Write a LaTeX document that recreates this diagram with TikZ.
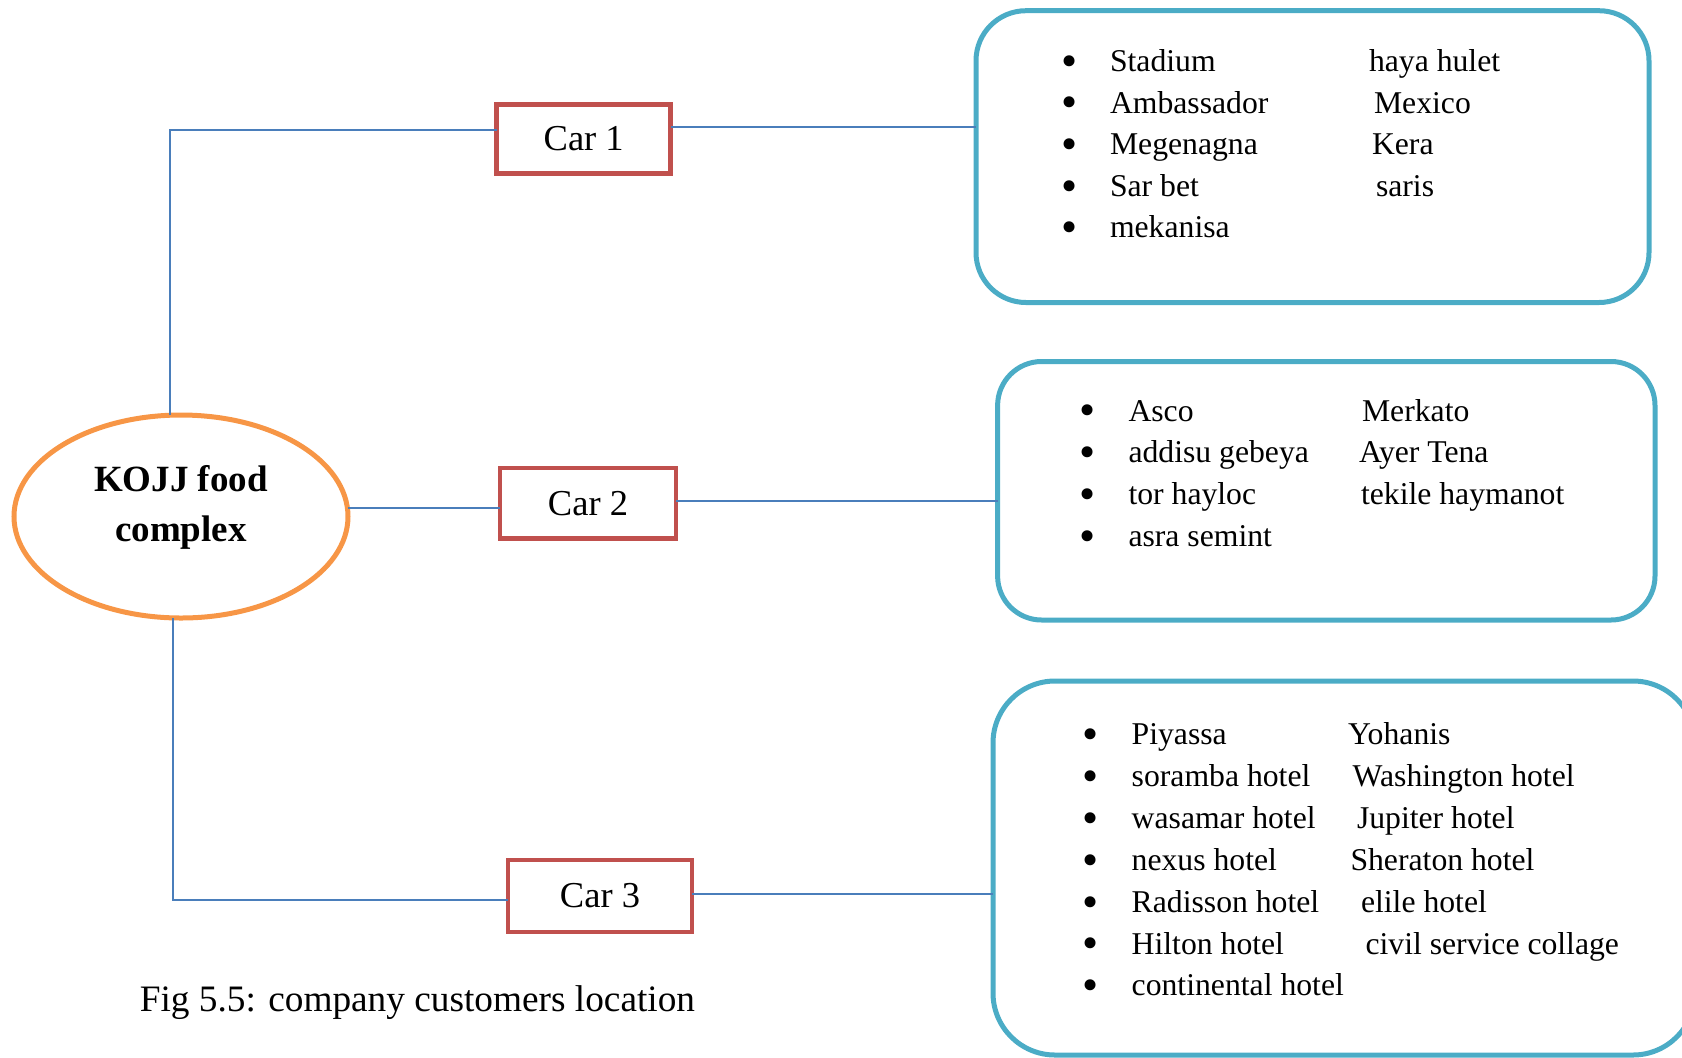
\documentclass[tikz,border=0pt]{standalone}
\usepackage{fontspec}
\setmainfont{Liberation Serif}
\usetikzlibrary{shapes.geometric}
\definecolor{conn}{HTML}{4A7EBB}
\definecolor{carred}{HTML}{C0504D}
\definecolor{hub}{HTML}{F79646}
\definecolor{listbox}{HTML}{4BACC6}
\begin{document}
\begin{tikzpicture}[x=0.5pt,y=-0.5pt,
  conline/.style={draw=conn,line width=1pt},
  carbox/.style={draw=carred,line width=2.4pt,rectangle,inner sep=0pt,outer sep=0pt,font=\fontsize{18.25pt}{22pt}\selectfont},
  hubell/.style={draw=hub,line width=2.5pt,ellipse,inner sep=0pt,outer sep=0pt,minimum width=167pt,minimum height=101.5pt},
  listframe/.style={draw=listbox,line width=2.5pt,rectangle,inner sep=0pt,outer sep=0pt},
  item/.style={anchor=base west,inner sep=0pt,outer sep=0pt,font=\fontsize{15.85pt}{19pt}\selectfont},
  dot/.style={anchor=center,inner sep=0pt,outer sep=0pt,font=\fontsize{23pt}{23pt}\selectfont},
]
\useasboundingbox (0,0) rectangle (1682,1057);
\clip (0,0) rectangle (1682,1057);

% hub
\node[hubell] (kojj) at (181,516.5) {};
\node[anchor=base,align=center,inner sep=0pt,font=\bfseries\fontsize{18.5pt}{24.6pt}\selectfont] (kojjtext) at (181,541) {KOJJ food\\complex};

% cars
\node[carbox,minimum width=87pt,minimum height=34.5pt] (car1) at (583.7,138.7) {Car 1};
\node[carbox,minimum width=88pt,minimum height=35.25pt] (car2) at (588,503.3) {Car 2};
\node[carbox,minimum width=92pt,minimum height=36pt] (car3) at (600,896) {Car 3};

% list frames
\node[listframe,rounded corners=25pt,minimum width=336.5pt,minimum height=145.9pt] (box1) at (1312.5,156.6) {};
\node[listframe,rounded corners=22pt,minimum width=328.7pt,minimum height=129.25pt] (box2) at (1326.3,490.75) {};
\node[listframe,rounded corners=31pt,minimum width=351pt,minimum height=187pt] (box3) at (1344,868) {};

% connectors
\coordinate (jtop) at (170,130);
\coordinate (jbot) at (172.5,900);
\draw[conline] (kojj.north -| jtop) -- (jtop) -- (jtop -| car1.west);
\draw[conline] (kojj.south -| jbot) -- (jbot) -- (jbot -| car3.west);
\draw[conline] ([yshift=4.5pt]kojj.east) -- ([yshift=4.5pt]kojj.east -| car2.west);
\draw[conline] ([yshift=6pt]car1.east) -- ([yshift=6pt]car1.east -| box1.west);
\draw[conline] ([yshift=1.15pt]car2.east) -- ([yshift=1.15pt]car2.east -| box2.west);
\draw[conline] ([yshift=1.2pt]car3.east) -- ([yshift=1.2pt]car3.east -| box3.west);

% list 1
\foreach \yb/\ta/\tb/\xb [count=\i] in {71.3/Stadium/haya hulet/1369, 113.0/Ambassador/Mexico/1374, 154.6/Megenagna/Kera/1372, 196.3/Sar bet/saris/1376}
{
  \node[dot] (bA\i) at (1069.5,\yb-5.5) {•};
  \node[item] (tA\i) at (1110,\yb) {\ta};
  \node[item] (uA\i) at (\xb,\yb) {\tb};
}
\node[dot] (bA5) at (1069.5,237.9-5.5) {•};
\node[item] (tA5) at (1110,237.9) {mekanisa};

% list 2
\foreach \yb/\ta/\tb/\xb [count=\i] in {421.0/Asco/Merkato/1362, 462.8/addisu gebeya/Ayer Tena/1359, 504.6/tor hayloc/tekile haymanot/1361}
{
  \node[dot] (bB\i) at (1087.7,\yb-5.5) {•};
  \node[item] (tB\i) at (1128.5,\yb) {\ta};
  \node[item] (uB\i) at (\xb,\yb) {\tb};
}
\node[dot] (bB4) at (1087.7,546.5-5.5) {•};
\node[item] (tB4) at (1128.5,546.5) {asra semint};

% list 3
\foreach \yb/\ta/\tb/\xb [count=\i] in {744.9/Piyassa/Yohanis/1348, 786.8/soramba hotel/Washington hotel/1352.7, 828.6/wasamar hotel/Jupiter hotel/1357, 870.4/nexus hotel/Sheraton hotel/1350.5, 912.3/Radisson hotel/elile hotel/1361, 954.1/Hilton hotel/civil service collage/1365.5}
{
  \node[dot] (bC\i) at (1091,\yb-5.5) {•};
  \node[item] (tC\i) at (1131.7,\yb) {\ta};
  \node[item] (uC\i) at (\xb,\yb) {\tb};
}
\node[dot] (bC7) at (1091,995.9-5.5) {•};
\node[item] (tC7) at (1131.7,995.9) {continental hotel};

% caption
\node[anchor=base west,inner sep=0pt,font=\fontsize{18.65pt}{22pt}\selectfont] (caption) at (139.4,1011.5) {Fig 5.5: company customers location};
\end{tikzpicture}
\end{document}
